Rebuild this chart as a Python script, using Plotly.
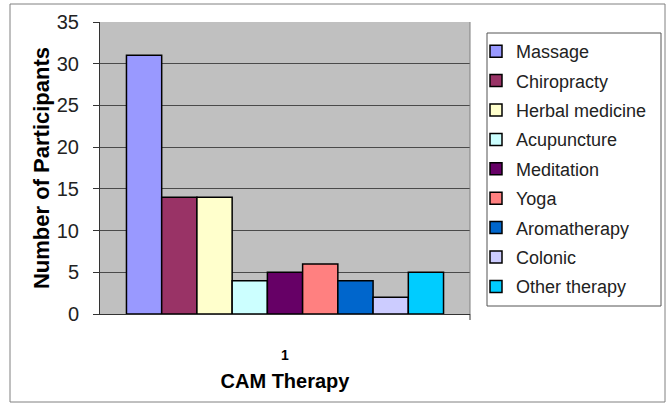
import plotly.graph_objects as go

categories = ["Massage", "Chiropracty", "Herbal medicine", "Acupuncture", "Meditation",
              "Yoga", "Aromatherapy", "Colonic", "Other therapy"]
values = [31, 14, 14, 4, 5, 6, 4, 2, 5]
colors = ["#9999FF", "#993366", "#FFFFCC", "#CCFFFF", "#660066",
          "#FF8080", "#0066CC", "#CCCCFF", "#00CCFF"]
x_label = ["1"]
y_ticks = [0, 5, 10, 15, 20, 25, 30, 35]

fig = go.Figure()
for name, v, c in zip(categories, values, colors):
    fig.add_trace(go.Bar(x=x_label, y=[v], name=name, legendgroup=name,
                         marker=dict(color=c, line=dict(color="black", width=1.5))))

font = "Liberation Sans, Arial, sans-serif"
L, T, W, H = 100, 22, 370, 292
def px(x):
    return (x - L) / W
def py(y):
    return (T + H - y) / H

fig.update_layout(
    width=670, height=407,
    margin=dict(l=L, r=670 - L - W, t=T, b=407 - T - H, autoexpand=False),
    paper_bgcolor="white", plot_bgcolor="#C0C0C0",
    barmode="group", bargap=0.143, bargroupgap=0,
    font=dict(family=font, size=16, color="black"),
    showlegend=True,
    legend=dict(x=px(476), y=py(33), xanchor="left", yanchor="top",
                borderwidth=0, bgcolor="rgba(0,0,0,0)",
                font=dict(size=18, color="#222"), traceorder="grouped",
                itemwidth=30, tracegroupgap=3),
    xaxis=dict(type="category", showgrid=False, ticks="", showline=True,
               linecolor="#333", linewidth=1,
               ticklabelstandoff=28,
               tickfont=dict(size=14, color="black", weight="bold"),
               title=dict(text="<b>CAM Therapy</b>", standoff=12,
                          font=dict(size=20))),
    yaxis=dict(range=[0, 35], tickvals=y_ticks, showgrid=True, gridcolor="#4a4a4a",
               gridwidth=1.2, showline=True, linecolor="#333", linewidth=1,
               ticks="outside", ticklen=6, tickcolor="#333",
               ticklabelstandoff=10,
               tickfont=dict(size=20, color="#222"),
               title=dict(text="<b>Number of Participants</b>", standoff=1,
                          font=dict(size=22)),
               zeroline=False),
    shapes=[
        dict(type="rect", xref="paper", yref="paper", x0=px(10), x1=px(665),
             y0=py(402), y1=py(4), line=dict(color="#808080", width=1), layer="below"),
        dict(type="rect", xref="paper", yref="paper", x0=px(487), x1=px(661),
             y0=py(306), y1=py(33), line=dict(color="#555555", width=1)),
        dict(type="line", xref="paper", yref="paper", x0=1, x1=1, y0=0, y1=1,
             line=dict(color="#808080", width=1)),
        dict(type="line", xref="paper", yref="paper", x0=1, x1=1, y0=0, y1=py(320),
             line=dict(color="#333", width=1)),
    ],
)
fig.write_html("out.html", config={"displayModeBar": False},
               post_script="document.body.style.margin='0';")
